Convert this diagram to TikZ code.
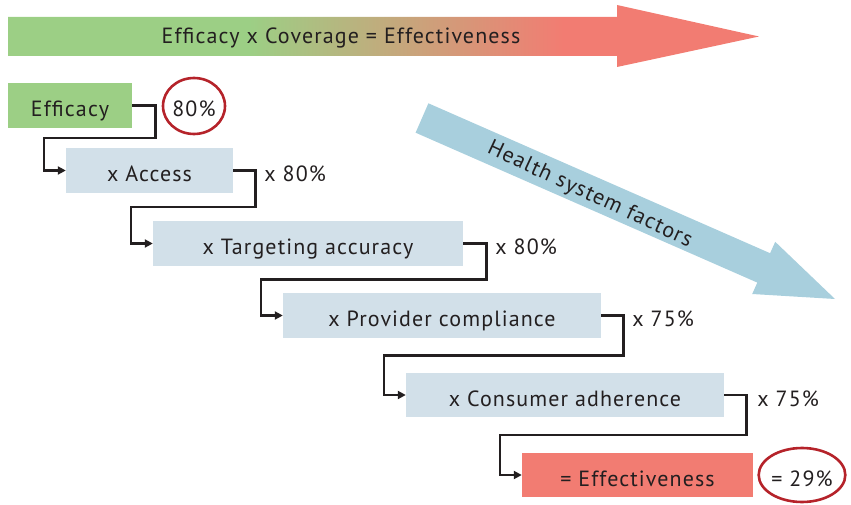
\documentclass[tikz,border=0pt]{standalone}
\usepackage{fontspec}
\setmainfont[LetterSpace=5]{PT Sans}
\usetikzlibrary{arrows.meta,calc,shapes.geometric}
\definecolor{effgreen}{HTML}{9CCF85}
\definecolor{effred}{HTML}{F27C72}
\definecolor{boxblue}{HTML}{D2E0E9}
\definecolor{hsblue}{HTML}{A8CFDD}
\definecolor{ink}{HTML}{231F20}
\definecolor{ringred}{HTML}{B5232A}
\pgfdeclarehorizontalshading{topshade}{100bp}{color(0bp)=(effgreen); color(41bp)=(effgreen); color(62bp)=(effred); color(100bp)=(effred)}
\newcommand{\dfont}{\fontsize{22}{25}\selectfont}
\tikzset{
  txt/.style={inner sep=0, text=ink, font=\dfont, text height=22pt, text depth=0pt},
  stepbox/.style={txt, rectangle, minimum height=45},
  conn/.style={draw=ink, line width=2.6pt, -{Triangle[length=8pt,width=8pt]}},
  lbl/.style={txt, anchor=west},
  ring/.style={txt, ellipse, draw=ringred, line width=2.6pt}
}
\begin{document}
\begin{tikzpicture}[x=1pt,y=-1pt]
\useasboundingbox (0,0) rectangle (851,505);
% top arrow
\path[shading=topshade] (8,17) -- (617,17) -- (617,5) -- (759,36.5) -- (617,67) -- (617,56) -- (8,56) -- cycle;
\node[txt] (title) at (341,32.5) {Efficacy x Coverage = Effectiveness};
% health system arrow
\fill[hsblue] (428.4,103.3) -- (770.1,253.2) -- (775.2,241.8) -- (835,299) -- (752.2,294) -- (757.3,282.6) -- (415.6,132.7) -- cycle;
\node[txt, rotate=-25] (hs) at (592,190) {Health system factors};
% boxes
\node[stepbox, fill=effgreen, minimum width=124] (eff) at (70,105.5) {Efficacy};
\node[stepbox, fill=boxblue, minimum width=167] (acc) at (149.5,170.5) {x Access};
\node[stepbox, fill=boxblue, minimum width=310] (tgt) at (308,243.5) {x Targeting accuracy};
\node[stepbox, fill=boxblue, minimum width=318] (prv) at (442,315.5) {x Provider compliance};
\node[stepbox, fill=boxblue, minimum width=318, minimum height=44] (con) at (565,395) {x Consumer adherence};
\node[stepbox, fill=effred, minimum width=231, minimum height=44] (res) at (637.5,475) {= Effectiveness};
% connectors
\draw[conn] (eff.east) -- ++(23,0) |- ($(eff.south)!.5!(acc.north)$) -| ($(acc.west)+(-22,0)$) -- (acc.west);
\draw[conn] (acc.east) -- ++(22,0) |- ($(acc.south)!.5!(tgt.north)$) -| ($(tgt.west)+(-22,0)$) -- (tgt.west);
\draw[conn] (tgt.east) -- ++(23,0) |- ($(tgt.south)!.5!(prv.north)$) -| ($(prv.west)+(-22,0)$) -- (prv.west);
\draw[conn] (prv.east) -- ++(22,0) |- ($(prv.south)!.5!(con.north)$) -| ($(con.west)+(-22,0)$) -- (con.west);
\draw[conn] (con.east) -- ++(22,0) |- ($(con.south)!.5!(res.north)$) -| ($(res.west)+(-22,0)$) -- (res.west);
% labels
\node[ring, minimum width=62, minimum height=56] (r1) at (194,106) {80\%};
\node[lbl] (l1) at ($(acc.east)+(31,0)$) {x 80\%};
\node[lbl] (l2) at ($(tgt.east)+(32,0)$) {x 80\%};
\node[lbl] (l3) at ($(prv.east)+(31,0)$) {x 75\%};
\node[lbl] (l4) at ($(con.east)+(33,0)$) {x 75\%};
\node[ring, minimum width=84, minimum height=54] (r2) at (802,475) {= 29\%};
\end{tikzpicture}
\end{document}
